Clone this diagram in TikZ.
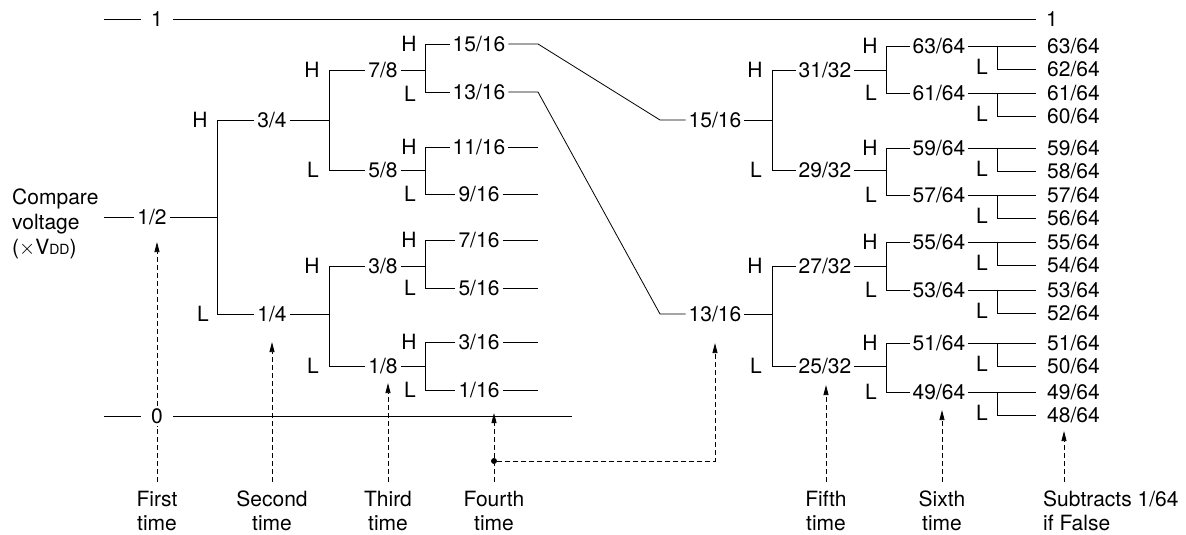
\documentclass[tikz,border=0pt]{standalone}
\usepackage{fontspec}
\setmainfont{TeX Gyre Heros}
\usetikzlibrary{arrows.meta,calc}
\newcommand{\brch}[4]{%
  \coordinate (jj) at (#2,0);
  \draw[ln] (#1.east) -- (#1.east -| jj);
  \draw[ln] (#3.west) -- (#3.west -| jj) -- (#4.west -| jj) -- (#4.west);
}
\newcommand{\fpair}[4]{%
  \node[anchor=west] (#1a) at (1044,{#2}) {#3};
  \node[anchor=west] (#1b) at (1044,{#2+23}) {#4};
  \node (#1l) at (982,{#2+21}) {L};
  \draw[ln, shorten >=8pt] (#1.east) -- (#1a.west);
  \draw[ln, shorten >=8pt] (#1.east -| fj) |- (#1b.west);
}
\begin{document}
\begin{tikzpicture}[x=1pt,y=-1pt,
  every node/.style={font=\fontsize{21}{24}\selectfont, inner xsep=3pt, inner ysep=2pt},
  ln/.style={line width=0.8pt},
  dsh/.style={line width=0.8pt, dash pattern=on 5pt off 3pt},
  dar/.style={dsh, -{Triangle[length=10pt,width=5pt]}},
  lvl/.style={inner xsep=10pt},
  dotn/.style={circle, fill, inner sep=0pt, minimum size=6pt},
]
\useasboundingbox (0,0) rectangle (1186,535);
\coordinate (lx) at (104,0);
\coordinate (sx) at (538,0);
\coordinate (kx) at (660,0);
\coordinate (fj) at (997,0);
\coordinate (zend) at (572,416);

% reference levels
\node[lvl] (top1) at (157,19) {1};
\node[lvl] (top1r) at (1052,19) {1};
\node[lvl, inner ysep=0pt] (zero) at (157,416) {0};
\draw[ln] (lx |- top1) -- (top1.west);
\draw[ln] (top1.east) -- (top1r.west);
\draw[ln] (lx |- zero) -- (zero.west);
\draw[ln] (zero.east) -- (zend);

% compare voltage
\node[anchor=west, align=left, inner sep=0pt, font=\fontsize{21}{25}\selectfont] (cv) at (12,224)
  {Compare\\voltage\\(${\times}$V{\fontsize{14}{14}\selectfont DD})};

% left tree
\node (n12) at (152,217) {1/2};
\draw[ln] (lx |- n12) -- (n12.west);
\node (n34) at (272,120) {3/4};
\node (n14) at (272,314) {1/4};
\node (n78) at (383,70) {7/8};
\node (n58) at (383,170) {5/8};
\node (n38) at (383,266) {3/8};
\node (n18) at (383,366) {1/8};
\node (n1516) at (479,44) {15/16};
\node (n1316) at (479,92) {13/16};
\node (n1116) at (479,147) {11/16};
\node (n916) at (479,194) {9/16};
\node (n716) at (479,240) {7/16};
\node (n516) at (479,288) {5/16};
\node (n316) at (479,342) {3/16};
\node (n116) at (479,390) {1/16};

\brch{n12}{217}{n34}{n14}
\brch{n34}{329}{n78}{n58}
\brch{n14}{329}{n38}{n18}
\brch{n78}{425}{n1516}{n1316}
\brch{n58}{425}{n1116}{n916}
\brch{n38}{425}{n716}{n516}
\brch{n18}{425}{n316}{n116}

\foreach \n in {n1116,n916,n716,n516,n316,n116}
  \draw[ln] (\n.east) -- (\n.east -| sx);

% H / L labels left
\node (ha) at (200,120) {H};
\node (la) at (203,314) {L};
\node (hb1) at (312,70) {H};
\node (lb1) at (313,170) {L};
\node (hb2) at (312,266) {H};
\node (lb2) at (313,366) {L};
\node (hc1) at (409,44) {H};
\node (lc1) at (410,94) {L};
\node (hc2) at (409,147) {H};
\node (lc2) at (410,194) {L};
\node (hc3) at (409,240) {H};
\node (lc3) at (410,288) {L};
\node (hc4) at (409,342) {H};
\node (lc4) at (410,390) {L};

% right tree
\node (r1516) at (715,120) {15/16};
\node (r1316) at (715,314) {13/16};
\draw[ln] (n1516.east) -- (n1516.east -| sx) -- (r1516.west -| kx) -- (r1516.west);
\draw[ln] (n1316.east) -- (n1316.east -| sx) -- (r1316.west -| kx) -- (r1316.west);

\node (n3132) at (825,70) {31/32};
\node (n2932) at (825,170) {29/32};
\node (n2732) at (825,266) {27/32};
\node (n2532) at (825,366) {25/32};
\node (n6364) at (939,46) {63/64};
\node (n6164) at (939,93) {61/64};
\node (n5964) at (939,148) {59/64};
\node (n5764) at (939,195) {57/64};
\node (n5564) at (939,242) {55/64};
\node (n5364) at (939,290) {53/64};
\node (n5164) at (939,343) {51/64};
\node (n4964) at (939,392) {49/64};

\brch{r1516}{772}{n3132}{n2932}
\brch{r1316}{772}{n2732}{n2532}
\brch{n3132}{886}{n6364}{n6164}
\brch{n2932}{886}{n5964}{n5764}
\brch{n2732}{886}{n5564}{n5364}
\brch{n2532}{886}{n5164}{n4964}

\node (hd1) at (755,70) {H};
\node (ld1) at (756,170) {L};
\node (hd2) at (755,266) {H};
\node (ld2) at (756,366) {L};
\node (he1) at (870,46) {H};
\node (le1) at (871,93) {L};
\node (he2) at (870,148) {H};
\node (le2) at (871,195) {L};
\node (he3) at (870,242) {H};
\node (le3) at (871,290) {L};
\node (he4) at (870,343) {H};
\node (le4) at (871,392) {L};

\fpair{n6364}{46}{63/64}{62/64}
\fpair{n6164}{93}{61/64}{60/64}
\fpair{n5964}{148}{59/64}{58/64}
\fpair{n5764}{195}{57/64}{56/64}
\fpair{n5564}{242}{55/64}{54/64}
\fpair{n5364}{290}{53/64}{52/64}
\fpair{n5164}{343}{51/64}{50/64}
\fpair{n4964}{392}{49/64}{48/64}

% bottom labels
\node[anchor=north, align=center] (t1) at (157,489) {First\\time};
\node[anchor=north, align=center] (t2) at (272,489) {Second\\time};
\node[anchor=north, align=center] (t3) at (388,489) {Third\\time};
\node[anchor=north, align=center] (t4) at (494,489) {Fourth\\time};
\node[anchor=north, align=center] (t5) at (826,489) {Fifth\\time};
\node[anchor=north, align=center] (t6) at (942,489) {Sixth\\time};
\node[anchor=north west, align=left] (t7) at (1040,489) {Subtracts 1/64\\if False};
\coordinate (t7a) at ($(t7.north west)+(24,0)$);

% dashed arrows
\draw[dsh, shorten <=7pt, shorten >=2pt] (t1.north) -- (zero.south);
\draw[dar, shorten <=2pt, shorten >=15pt] (zero.north) -- (zero.north |- n12.south);
\draw[dar, shorten <=7pt, shorten >=18pt] (t2.north) -- (t2.north |- n14.south);
\draw[dar, shorten <=7pt, shorten >=7pt] (t3.north) -- (t3.north |- n18.south);
\draw[dar, shorten <=7pt, shorten >=9pt] (t5.north) -- (t5.north |- n2532.south);
\draw[dar, shorten <=7pt, shorten >=8pt] (t6.north) -- (t6.north |- n4964.south);
\draw[dar, shorten <=7pt, shorten >=6pt] (t7a) -- (t7a |- n4964b.south);
\node[dotn] (dot) at (494,461) {};
\draw[dsh, shorten <=7pt] (t4.north) -- (dot);
\draw[dar, shorten >=-3pt] (dot) -- (dot |- zend);
\draw[dar, shorten >=19pt] (dot) -| (r1316.south);
\end{tikzpicture}
\end{document}
